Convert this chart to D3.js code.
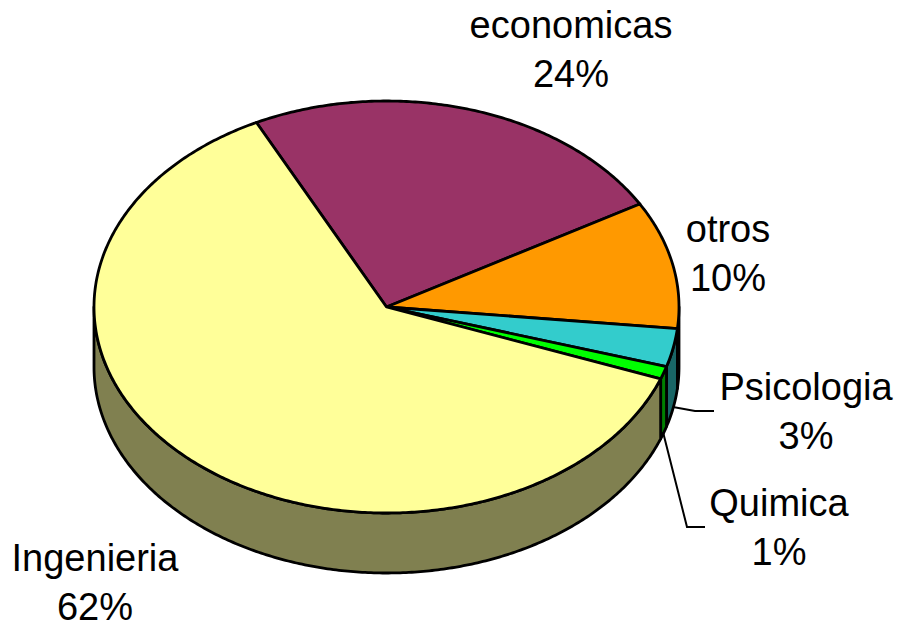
<!DOCTYPE html>
<html>
<head>
<meta charset="utf-8">
<style>
html,body{margin:0;padding:0;background:#fff}
svg{display:block}
text{font-family:"Liberation Sans",Arial,sans-serif;fill:#000}
</style>
<script src="https://cdn.jsdelivr.net/npm/d3@7/dist/d3.min.js"></script>
</head>
<body>
<div id="chart"></div>
<script>
const categories = ["economicas","otros","Psicologia","Quimica","Ingenieria"];
const values = [24,10,3,1,62];
const topColors = ["#993366","#FF9900","#33CCCC","#00FF00","#FFFF99"];
const sideColors = ["#4d1933","#804c00","#196666","#008000","#808050"];

const W=899,H=625,cx=386.5,cy=307,rx=292.5,ry=206,depth=60;
const fontSize=38, lineGap=48.5;
const labelPos=[[571,38],[728,242],[806,400],[779,516],[95,571]];
const leaders=[null,null,[[673,407],[695,411],[714,411]],[[663,432],[687,527],[705,527]],null];

const svg=d3.select("#chart").append("svg").attr("width",W).attr("height",H);
const startDeg=-26.4;
const pie=d3.pie().sort(null).startAngle(startDeg*Math.PI/180).endAngle((startDeg+360)*Math.PI/180);
const arcs=pie(values);
const sx=d3.scaleLinear().domain([-1,1]).range([cx-rx,cx+rx]);
const sy=d3.scaleLinear().domain([-1,1]).range([cy-ry,cy+ry]);
const line=d3.line();
const pt=(a,dy=0)=>[sx(Math.sin(a)),sy(-Math.cos(a))+dy];
const sample=(a0,a1,dy=0)=>{
  const n=Math.max(2,Math.ceil(Math.abs(a1-a0)/0.01));
  return d3.range(n+1).map(i=>pt(a0+(a1-a0)*i/n,dy));
};
// visible front of the rim: 90deg to 270deg clockwise from top
const frontA=Math.PI/2, frontB=3*Math.PI/2;
const sides=svg.append("g");
arcs.forEach((d,i)=>{
  const a0=Math.max(d.startAngle,frontA), a1=Math.min(d.endAngle,frontB);
  if(a1<=a0) return;
  const pts=sample(a0,a1,0).concat(sample(a1,a0,depth));
  sides.append("path").attr("d",line(pts)+"Z")
    .attr("fill",sideColors[i]).attr("stroke","#000").attr("stroke-width",2.8).attr("stroke-linejoin","round");
});
const tops=svg.append("g");
arcs.forEach((d,i)=>{
  const pts=[[cx,cy]].concat(sample(d.startAngle,d.endAngle));
  tops.append("path").attr("d",line(pts)+"Z")
    .attr("fill",topColors[i]).attr("stroke","#000").attr("stroke-width",2.8).attr("stroke-linejoin","round");
});
leaders.forEach(l=>{
  if(l) svg.append("path").attr("d",line(l)).attr("fill","none").attr("stroke","#000").attr("stroke-width",2);
});
categories.forEach((c,i)=>{
  const [x,y]=labelPos[i];
  const t=svg.append("text").attr("text-anchor","middle").attr("font-size",fontSize);
  t.append("tspan").attr("x",x).attr("y",y).text(c);
  t.append("tspan").attr("x",x).attr("y",y+lineGap).text(values[i]+"%");
});
</script>
</body>
</html>
